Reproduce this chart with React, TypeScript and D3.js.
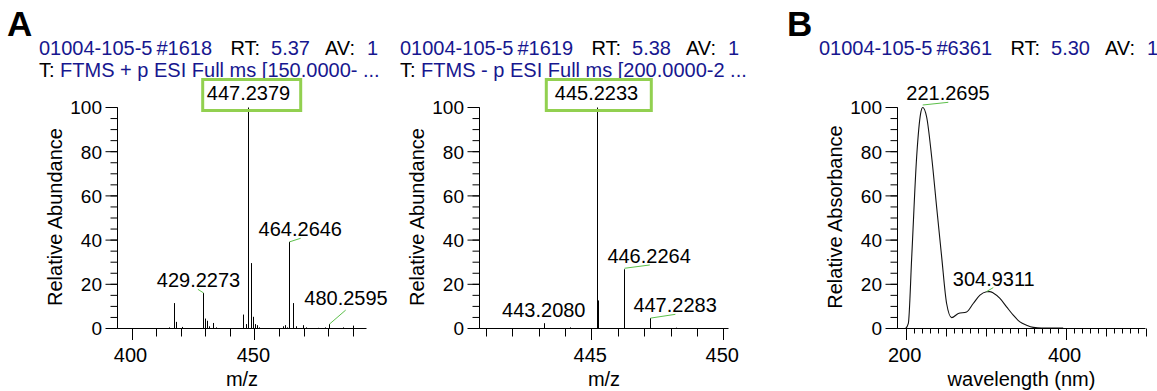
import React from "react";
import * as d3 from "d3";

const FONT = "'Liberation Sans', Arial, Helvetica, sans-serif";
const BLUE = "#17178f";
const GREEN_BOX = "#92d050";
const GREEN_LINE = "#5cbf4a";

// ---------- data ----------
// Panel A (left): scan #1618, positive mode
const ms1Mz = [415.17, 417.21, 418.02, 420.34, 429.2273, 430.1, 430.76, 431.57, 433.2, 434.3, 445.16, 446.5, 447.2379, 448.41, 449.47, 450.28, 450.85, 451.67, 461.43, 462.37, 463.3, 464.2646, 465.75, 466.72, 469.57, 470.79, 475.67, 478.64, 480.2595, 485.84, 490.15];
const ms1Int = [0.5, 11.5, 3.0, 0.7, 16.1, 4.5, 3.5, 1.0, 2.5, 0.5, 6.3, 2.0, 100, 29.6, 5.3, 2.0, 1.5, 0.5, 1.0, 1.5, 0.5, 39.2, 11.5, 1.0, 1.5, 0.5, 0.3, 0.5, 2.0, 0.5, 1.3];

// Panel A (right): scan #1619, negative mode
const ms2Mz = [443.208, 444.19, 445.2233, 445.27, 446.2264, 447.2283, 448.2];
const ms2Int = [2.4, 0.5, 100, 12.7, 26.8, 4.7, 0.4];

// Panel B: UV spectrum
const uvNm = [200, 203.3, 207.5, 213.7, 218.7, 221.2695, 226.2, 232.5, 238.7, 245, 251.2, 257.5, 265.8, 276.2, 284.5, 292.9, 301.2, 304.9311, 309.5, 317.9, 326.2, 334.6, 342.9, 351.2, 359.6, 370, 385, 397];
const uvAbs = [0, 2.3, 32, 77.6, 97.3, 100, 95.7, 77.6, 55, 32.4, 11.3, 4.9, 6.8, 7.5, 11.3, 15.1, 16.6, 16.7, 16.1, 13.6, 9.8, 6.0, 3.0, 1.5, 0.5, 0.2, 0.2, 0.2];

// header texts
const scanIds = ["#1618", "#1619", "#6361"];
const rtValues = ["5.37", "5.38", "5.30"];
const filterTexts = ["FTMS + p ESI Full ms [150.0000- ...", "FTMS - p ESI Full ms [200.0000-2 ...", ""];
const sampleName = "01004-105-5";

// peak labels
const ms1Labels = [447.2379, 429.2273, 464.2646, 480.2595];
const ms2Labels = [445.2233, 443.208, 446.2264, 447.2283];
const uvLabels = [221.2695, 304.9311];

// ---------- layout ----------
const Y0 = 328.5;
const Y100 = 107.5;

type Ann = { dx: number; dy: number; box?: [number, number]; lead?: [number, number, number, number] };
const ms1Ann: Ann[] = [
  { dx: 0, dy: -7.5, box: [-45.8, 52.2] },
  { dx: -5, dy: -5.6, lead: [-5.6, -3.6, 0, 0] },
  { dx: 10.8, dy: -6.2, lead: [0, 0, 11.2, -3.6] },
  { dx: 16.5, dy: -19, lead: [0, 0, 16.2, -14] },
];
const ms2Ann: Ann[] = [
  { dx: -1, dy: -7.5, box: [-51.2, 53.8] },
  { dx: -0.7, dy: -6.5 },
  { dx: 24.6, dy: -6, lead: [0, -1, 25.3, -4.3] },
  { dx: 24.6, dy: -6.4, lead: [0, 0, 24.9, -3.8] },
];
const uvAnn: Ann[] = [
  { dx: 25.3, dy: -7.5, lead: [0, -2.5, 25.6, -5.2] },
  { dx: 4.2, dy: -5.8, lead: [-3, 0, 3.7, -4] },
];

const fmtLabel = (v: number) => v.toFixed(4);

function YAxis({ x, y, title }: { x: number; y: d3.ScaleLinear<number, number>; title: string }) {
  const minor = d3.range(0, 101, 5);
  const major = y.ticks(5);
  return (
    <g>
      <line x1={x} x2={x} y1={y(0)} y2={y(100)} stroke="#000" strokeWidth={1} />
      {minor.map((t) => (
        <line key={"m" + t} x1={x - 7} x2={x} y1={y(t)} y2={y(t)} stroke="#000" strokeWidth={1} />
      ))}
      {major.map((t) => (
        <g key={"M" + t}>
          <line x1={x - 12} x2={x} y1={y(t)} y2={y(t)} stroke="#000" strokeWidth={1} />
          <text x={x - 15.5} y={y(t) + 6.8} textAnchor="end" fontSize={19} fill="#000">
            {t}
          </text>
        </g>
      ))}
      <text
        transform={`translate(${x - 56},${(y(0) + y(100)) / 2 - 1}) rotate(-90)`}
        textAnchor="middle"
        fontSize={20}
        fill="#000"
      >
        {title}
      </text>
    </g>
  );
}

function XAxis({
  x,
  y0,
  minor,
  mid,
  labels,
  title,
}: {
  x: d3.ScaleLinear<number, number>;
  y0: number;
  minor: number[];
  mid: number[];
  labels: number[];
  title: string;
}) {
  const [r0, r1] = x.range();
  const px = (v: number) => Math.round(x(v)) + 0.5;
  return (
    <g>
      <line x1={r0} x2={r1} y1={y0} y2={y0} stroke="#000" strokeWidth={1} />
      {minor.map((t) => (
        <line key={"n" + t} x1={px(t)} x2={px(t)} y1={y0} y2={y0 + 5} stroke="#000" strokeWidth={1} />
      ))}
      {mid.map((t) => (
        <line key={"d" + t} x1={px(t)} x2={px(t)} y1={y0} y2={y0 + 8} stroke="#000" strokeWidth={1} />
      ))}
      {labels.map((t) => (
        <g key={"l" + t}>
          <line x1={px(t)} x2={px(t)} y1={y0} y2={y0 + 11.5} stroke="#000" strokeWidth={1} />
          <text x={x(t) - 1} y={361.7} textAnchor="middle" fontSize={20} fill="#000">
            {t}
          </text>
        </g>
      ))}
      <text x={(r0 + r1) / 2} y={386.3} textAnchor="middle" fontSize={20} fill="#000">
        {title}
      </text>
    </g>
  );
}

function Header({ x0, i }: { x0: number; i: number }) {
  return (
    <g fontSize={20}>
      <text x={x0} y={55} fill={BLUE}>
        {sampleName}
      </text>
      <text x={x0 + 117.5} y={55} fill={BLUE}>
        {scanIds[i]}
      </text>
      <text x={x0 + 191.5} y={55} fill="#000">
        RT:
      </text>
      <text x={x0 + 271} y={55} fill={BLUE} textAnchor="end">
        {rtValues[i]}
      </text>
      <text x={x0 + 286} y={55} fill="#000">
        AV:
      </text>
      <text x={x0 + 328} y={55} fill={BLUE}>
        1
      </text>
      {filterTexts[i] ? (
        <text x={x0} y={77} fill={BLUE}>
          <tspan fill="#000">T:</tspan>
          <tspan>{" " + filterTexts[i]}</tspan>
        </text>
      ) : null}
    </g>
  );
}

function Annotations({
  values,
  anns,
  pos,
}: {
  values: number[];
  anns: Ann[];
  pos: (v: number) => [number, number];
}) {
  return (
    <g>
      {values.map((v, k) => {
        const a = anns[k];
        const [px, py] = pos(v);
        return (
          <g key={v}>
            {a.box ? (
              <rect
                x={px + a.box[0]}
                y={79.5}
                width={a.box[1] - a.box[0]}
                height={31}
                fill="none"
                stroke={GREEN_BOX}
                strokeWidth={3}
              />
            ) : null}
            {a.lead ? (
              <line
                x1={px + a.lead[0]}
                y1={py + a.lead[1]}
                x2={px + a.lead[2]}
                y2={py + a.lead[3]}
                stroke={GREEN_LINE}
                strokeWidth={1}
              />
            ) : null}
            <text x={px + a.dx} y={py + a.dy} textAnchor="middle" fontSize={20} fill="#000">
              {fmtLabel(v)}
            </text>
          </g>
        );
      })}
    </g>
  );
}

export default function App() {
  const y = d3.scaleLinear().domain([0, 100]).range([Y0, Y100]);

  const x1 = d3.scaleLinear().domain([394.3, 495.6]).range([117.5, 366.5]);
  const x2 = d3.scaleLinear().domain([440.765, 450.197]).range([479.5, 728.5]);
  const x3 = d3.scaleLinear().domain([189.75, 500]).range([897.5, 1145.5]);

  const stickX = (sc: d3.ScaleLinear<number, number>, v: number) => Math.round(sc(v)) + 0.5;

  const ms1Idx = (v: number) => ms1Mz.indexOf(v);
  const ms2Idx = (v: number) => ms2Mz.indexOf(v);
  const uvIdx = (v: number) => uvNm.indexOf(v);

  const uvLine = d3
    .line<number>()
    .x((_, i) => x3(uvNm[i]))
    .y((d) => y(d))
    .curve(d3.curveMonotoneX);

  const p1Labels = [400, 450];
  const p2Labels = [445, 450];
  const p3Labels = [200, 400];

  return (
    <svg
      width={1157}
      height={391}
      style={{ position: "absolute", left: 0, top: 0, background: "#fff" }}
      fontFamily={FONT}
    >
      <rect x={0} y={0} width={1157} height={391} fill="#fff" />
      {/* panel letters */}
      <text x={7} y={36} fontSize={35} fontWeight="bold" fill="#000">
        A
      </text>
      <text x={787} y={36} fontSize={35} fontWeight="bold" fill="#000">
        B
      </text>

      <Header x0={39} i={0} />
      <Header x0={400} i={1} />
      <Header x0={819} i={2} />

      {/* Panel 1 */}
      <g>
        {ms1Mz.map((m, i) => (
          <line
            key={m}
            x1={stickX(x1, m)}
            x2={stickX(x1, m)}
            y1={y(0)}
            y2={y(ms1Int[i])}
            stroke="#000"
            strokeWidth={1}
          />
        ))}
        <YAxis x={117.5} y={y} title="Relative Abundance" />
        <XAxis
          x={x1}
          y0={Y0}
          minor={[]}
          mid={x1.ticks(10).filter((t) => !p1Labels.includes(t))}
          labels={p1Labels}
          title="m/z"
        />
        <Annotations
          values={ms1Labels}
          anns={ms1Ann}
          pos={(v) => [stickX(x1, v), y(ms1Int[ms1Idx(v)])]}
        />
      </g>

      {/* Panel 2 */}
      <g>
        {ms2Mz.map((m, i) => (
          <line
            key={m}
            x1={stickX(x2, m)}
            x2={stickX(x2, m)}
            y1={y(0)}
            y2={y(ms2Int[i])}
            stroke="#000"
            strokeWidth={1}
          />
        ))}
        <YAxis x={479.5} y={y} title="Relative Abundance" />
        <XAxis
          x={x2}
          y0={Y0}
          minor={[]}
          mid={x2.ticks(10).filter((t) => !p2Labels.includes(t))}
          labels={p2Labels}
          title="m/z"
        />
        <Annotations
          values={ms2Labels}
          anns={ms2Ann}
          pos={(v) => [stickX(x2, v), y(ms2Int[ms2Idx(v)])]}
        />
      </g>

      {/* Panel 3 */}
      <g>
        <path d={uvLine(uvAbs) || ""} fill="none" stroke="#111" strokeWidth={1.1} />
        <YAxis x={897.5} y={y} title="Relative Absorbance" />
        <XAxis
          x={x3}
          y0={Y0}
          minor={x3.ticks(30).filter((t) => t % 50 !== 0 && t > 190)}
          mid={x3.ticks(6).filter((t) => !p3Labels.includes(t))}
          labels={p3Labels}
          title="wavelength (nm)"
        />
        <Annotations
          values={uvLabels}
          anns={uvAnn}
          pos={(v) => [x3(v), y(uvAbs[uvIdx(v)])]}
        />
      </g>
    </svg>
  );
}
